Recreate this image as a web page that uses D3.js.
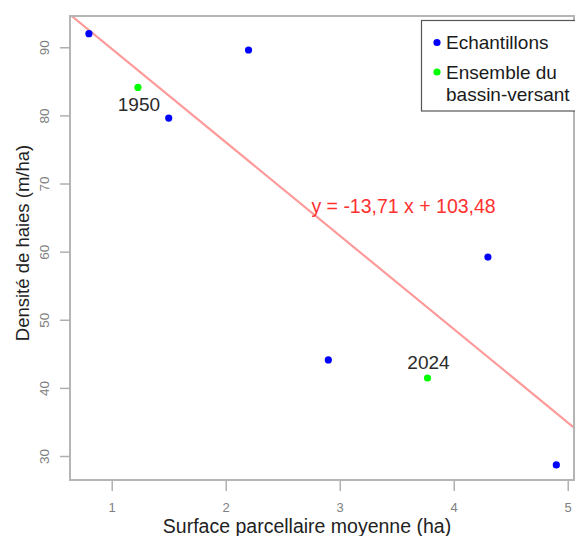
<!DOCTYPE html>
<html>
<head>
<meta charset="utf-8">
<script src="https://cdn.jsdelivr.net/npm/d3@7"></script>
<style>
  html, body { margin: 0; padding: 0; background: #fff; }
  svg { display: block; font-family: "Liberation Sans", Arial, sans-serif; }
</style>
</head>
<body>
<svg id="chart" width="575" height="536"></svg>
<script>
// ---- data ----
const sampleX = [0.8, 1.5, 2.2, 2.9, 4.3, 4.9];
const sampleY = [92.0, 79.6, 89.6, 44.1, 59.2, 28.7];
const basinX = [1.23, 3.77];
const basinY = [84.1, 41.45];
const basinLabels = ["1950", "2024"];
const slope = -13.71;
const intercept = 103.48;
const xTicks = [1, 2, 3, 4, 5];
const yTicks = [30, 40, 50, 60, 70, 80, 90];
const legendLabels = ["Echantillons", ["Ensemble du", "bassin-versant"]];
const legendColors = ["#0000ff", "#00ff00"];

// ---- layout ----
const svg = d3.select("#chart");
const L = 70, R = 574, T = 16, B = 480;
const x = d3.scaleLinear().domain([0.634, 5.055]).range([L, R]);
const y = d3.scaleLinear().domain([26.48, 94.59]).range([B, T]);

svg.append("defs").append("clipPath").attr("id", "plotclip")
  .append("rect").attr("x", L).attr("y", T).attr("width", R - L).attr("height", B - T);

// regression line
const x0 = x.domain()[0], x1 = x.domain()[1];
svg.append("line")
  .attr("clip-path", "url(#plotclip)")
  .attr("x1", x(x0)).attr("y1", y(slope * x0 + intercept))
  .attr("x2", x(x1)).attr("y2", y(slope * x1 + intercept))
  .attr("stroke", "#ff9a9a").attr("stroke-width", 2.2);

// box
svg.append("rect").attr("x", L).attr("y", T).attr("width", R - L).attr("height", B - T)
  .attr("fill", "none").attr("stroke", "#b5b5b5").attr("stroke-width", 2);

// x axis
const xAxis = d3.axisBottom(x).tickValues(xTicks).tickSize(10).tickPadding(12).tickFormat(d3.format("d"));
const gx = svg.append("g").attr("transform", `translate(0,${B + 1})`).call(xAxis);
gx.select(".domain").remove();
gx.selectAll(".tick line").attr("stroke", "#b0b0b0").attr("stroke-width", 1.5);
gx.selectAll(".tick text").attr("fill", "#808080").attr("font-size", 13)
  .attr("font-family", "Liberation Sans, Arial, sans-serif");

// y axis
const yAxis = d3.axisLeft(y).tickValues(yTicks).tickSize(10).tickFormat(d3.format("d"));
const gy = svg.append("g").attr("transform", `translate(${L},0)`).call(yAxis);
gy.select(".domain").remove();
gy.selectAll(".tick line").attr("stroke", "#b0b0b0").attr("stroke-width", 1.5);
gy.selectAll(".tick text")
  .attr("fill", "#808080").attr("font-size", 13.5)
  .attr("font-family", "Liberation Sans, Arial, sans-serif")
  .attr("x", null).attr("dy", null)
  .attr("text-anchor", "middle")
  .attr("dominant-baseline", "central")
  .attr("transform", "translate(-26,0) rotate(-90)");

// points
svg.append("g").selectAll("circle").data(sampleX).join("circle")
  .attr("cx", d => x(d)).attr("cy", (d, i) => y(sampleY[i])).attr("r", 3.6)
  .attr("fill", "#0000ff");
svg.append("g").selectAll("circle").data(basinX).join("circle")
  .attr("cx", d => x(d)).attr("cy", (d, i) => y(basinY[i])).attr("r", 3.6)
  .attr("fill", "#00ff00");

// point labels
const labelOffsets = [17, -16];
svg.append("g").selectAll("text").data(basinLabels).join("text")
  .attr("x", (d, i) => x(basinX[i]) + 1)
  .attr("y", (d, i) => y(basinY[i]) + labelOffsets[i])
  .attr("text-anchor", "middle").attr("dominant-baseline", "central")
  .attr("font-size", 19).attr("fill", "#2a2a2a").text(d => d);

// equation
svg.append("text").attr("x", x(3.56)).attr("y", y(66.7))
  .attr("text-anchor", "middle").attr("dominant-baseline", "central")
  .attr("font-size", 19.5).attr("fill", "#ff3030")
  .text(`y = ${String(slope).replace(".", ",")} x + ${String(intercept).replace(".", ",")}`);

// axis titles
svg.append("text").attr("x", 307).attr("y", 526)
  .attr("text-anchor", "middle").attr("dominant-baseline", "central")
  .attr("font-size", 19.5).attr("fill", "#222")
  .text("Surface parcellaire moyenne (ha)");
svg.append("text").attr("transform", `translate(22,${(T + B) / 2 - 5}) rotate(-90)`)
  .attr("text-anchor", "middle").attr("dominant-baseline", "central")
  .attr("font-size", 18.5).attr("fill", "#222")
  .text("Densité de haies (m/ha)");

// legend
const lg = svg.append("g");
lg.append("rect").attr("x", 421.5).attr("y", 20.5).attr("width", 170).attr("height", 90.5)
  .attr("fill", "#fff").attr("stroke", "#555").attr("stroke-width", 1.2);
const rowY = [42.5, 72];
legendLabels.forEach((lab, i) => {
  lg.append("circle").attr("cx", 437).attr("cy", rowY[i]).attr("r", 3.6).attr("fill", legendColors[i]);
  const lines = Array.isArray(lab) ? lab : [lab];
  lines.forEach((t, j) => {
    lg.append("text").attr("x", 446).attr("y", rowY[i] + j * 22.5)
      .attr("dominant-baseline", "central").attr("font-size", 19).attr("fill", "#1a1a1a")
      .text(t);
  });
});
</script>
</body>
</html>
